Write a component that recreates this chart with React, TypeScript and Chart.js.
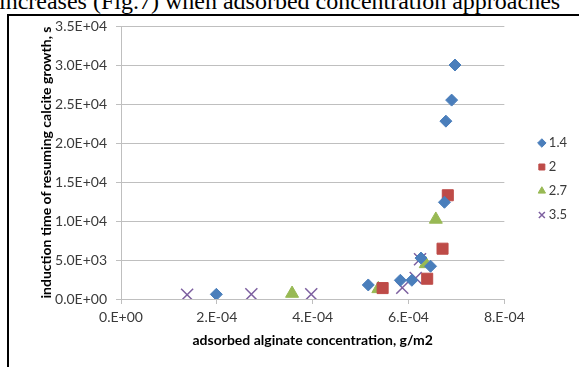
import { useEffect, useRef } from 'react';
import { Chart, registerables } from 'chart.js';

Chart.register(...registerables);

const seriesNames = ['1.4', '2', '2.7', '3.5'];

const s14X = [1.99e-4, 5.16e-4, 5.83e-4, 6.07e-4, 6.26e-4, 6.46e-4, 6.75e-4, 6.78e-4, 6.9e-4, 6.97e-4];
const s14Y = [600, 1800, 2400, 2400, 5250, 4200, 12400, 22800, 25500, 30000];

const s2X = [5.46e-4, 6.39e-4, 6.71e-4, 6.82e-4];
const s2Y = [1400, 2600, 6450, 13300];

const s27X = [3.57e-4, 5.37e-4, 6.36e-4, 6.57e-4];
const s27Y = [700, 1300, 4500, 10200];

const s35X = [1.38e-4, 2.72e-4, 3.97e-4, 5.87e-4, 6.15e-4, 6.24e-4];
const s35Y = [550, 600, 600, 1450, 2700, 5100];

const xMin = 0;
const xMax = 8e-4;
const xStep = 2e-4;
const yMin = 0;
const yMax = 35000;
const yStep = 5000;

const xTitle = 'adsorbed alginate concentration, g/m2';
const yTitle = 'induction time of resuming calcite growth, s';
const topText = 'increases (Fig.7) when adsorbed concentration approaches';

function fmtExp(v: number, digits: number): string {
  const [m, e] = v.toExponential(digits).split('e');
  const n = parseInt(e, 10);
  const mant = digits === 0 ? m + '.' : m;
  return `${mant}E${n < 0 ? '-' : '+'}${String(Math.abs(n)).padStart(2, '0')}`;
}

const toPts = (xs: number[], ys: number[]) => xs.map((x, i) => ({ x, y: ys[i] }));

const FONT = 'Lato, "Open Sans", sans-serif';
const GRID = '#bfbfbf';
const TICK = '#3a3a3a';

export default function App() {
  const ref = useRef<HTMLCanvasElement>(null);

  useEffect(() => {
    const chart = new Chart(ref.current!, {
      type: 'scatter',
      data: {
        datasets: [
          {
            label: seriesNames[0],
            data: toPts(s14X, s14Y),
            pointStyle: 'rectRot',
            pointRadius: 6,
            backgroundColor: '#4a7ebb',
            borderColor: '#4a7ebb',
            borderWidth: 1,
          },
          {
            label: seriesNames[1],
            data: toPts(s2X, s2Y),
            pointStyle: 'rect',
            pointRadius: 7.8,
            backgroundColor: '#be4b48',
            borderColor: '#be4b48',
            borderWidth: 1,
          },
          {
            label: seriesNames[2],
            data: toPts(s27X, s27Y),
            pointStyle: 'triangle',
            pointRadius: 7.5,
            backgroundColor: '#98b954',
            borderColor: '#98b954',
            borderWidth: 1,
          },
          {
            label: seriesNames[3],
            data: toPts(s35X, s35Y),
            pointStyle: 'crossRot',
            pointRadius: 8.5,
            backgroundColor: '#7d60a0',
            borderColor: '#7d60a0',
            borderWidth: 1.5,
          },
        ],
      },
      options: {
        responsive: false,
        animation: false,
        events: [],
        layout: { padding: { top: 26, left: 0, right: 2, bottom: 0 } },
        plugins: {
          legend: {
            position: 'right',
            fullSize: false,
            align: 'center',
            title: {
              display: true,
              text: ' ',
              font: { family: FONT, size: 13 },
              padding: { top: 17.4, bottom: 0 },
            },
            labels: {
              usePointStyle: true,
              boxWidth: 1,
              boxHeight: 6,
              padding: 11,
              color: TICK,
              font: { family: FONT, size: 13 },
            },
          },
          tooltip: { enabled: false },
        },
        scales: {
          x: {
            type: 'linear',
            position: 'bottom',
            min: xMin,
            max: xMax,
            ticks: {
              stepSize: xStep,
              autoSkip: false,
              maxRotation: 0,
              padding: 5,
              color: TICK,
              font: { family: FONT, size: 14 },
              callback: (v: any) => fmtExp(Number(v), 0),
            },
            grid: { drawOnChartArea: false, drawTicks: true, tickLength: 5, color: GRID },
            border: { display: true, color: GRID, width: 1 },
            title: {
              display: true,
              text: xTitle,
              color: '#000',
              font: { family: FONT, size: 14, weight: 'bold' },
              padding: { top: 0, bottom: 18 },
            },
            afterFit: (s: any) => {
              s.height = 68;
            },
          },
          y: {
            type: 'linear',
            position: 'left',
            min: yMin,
            max: yMax,
            ticks: {
              stepSize: yStep,
              autoSkip: false,
              padding: 9,
              color: TICK,
              font: { family: FONT, size: 14 },
              callback: (v: any) => fmtExp(Number(v), 1),
            },
            grid: { drawOnChartArea: true, drawTicks: true, tickLength: 5, color: GRID },
            border: { display: true, color: GRID, width: 1 },
            title: {
              display: true,
              text: yTitle,
              color: '#000',
              font: { family: FONT, size: 14, weight: 'bold' },
              padding: { top: 37.6, bottom: 0 },
            },
            afterFit: (s: any) => {
              s.width = 121;
            },
          },
          gap: {
            type: 'linear',
            position: 'right',
            display: true,
            ticks: { display: false },
            grid: { display: false },
            border: { display: false },
            afterFit: (s: any) => {
              s.width = 26;
            },
          },
        },
      },
    } as any);
    return () => chart.destroy();
  }, []);

  return (
    <div
      style={{
        position: 'absolute',
        left: 0,
        top: 0,
        width: 579,
        height: 367,
        overflow: 'hidden',
        background: '#fff',
      }}
    >
      <div
        style={{
          position: 'absolute',
          left: -1,
          top: -13,
          whiteSpace: 'nowrap',
          fontFamily: '"Liberation Serif", serif',
          fontSize: 24,
          lineHeight: '28px',
          color: '#000',
        }}
      >
        {topText}
      </div>
      <div
        style={{
          position: 'absolute',
          left: 7,
          top: 14,
          width: 640,
          height: 420,
          border: '2px solid #000',
          boxSizing: 'border-box',
        }}
      />
      <canvas
        ref={ref}
        width={579}
        height={367}
        style={{ position: 'absolute', left: 0, top: 0, width: 579, height: 367 }}
      />
    </div>
  );
}
